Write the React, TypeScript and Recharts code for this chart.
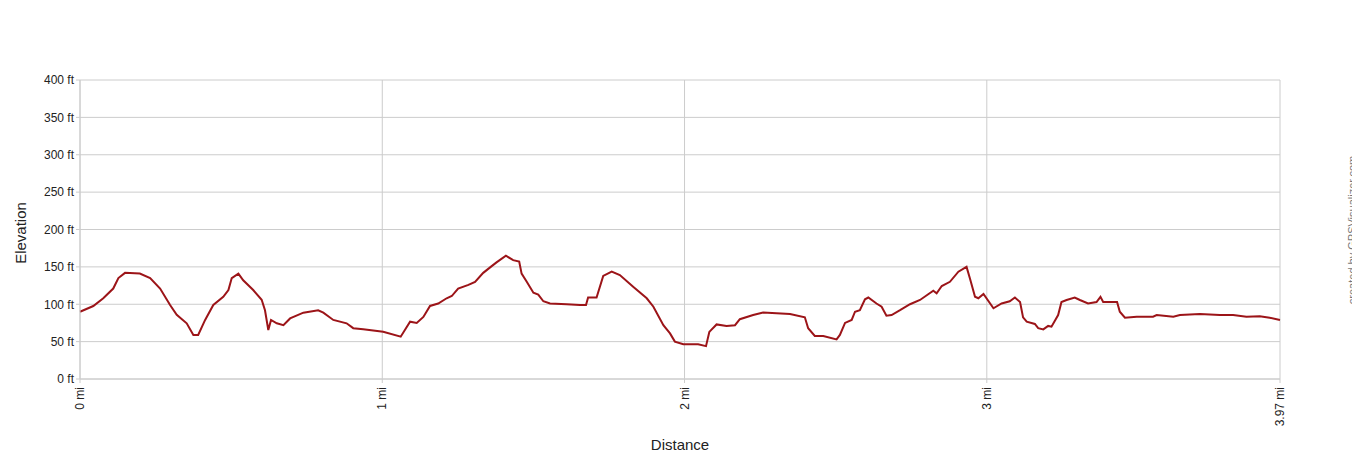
import { LineChart, Line, XAxis, YAxis, CartesianGrid, Label } from 'recharts';

// distance along the track (mi)
const distance = [
  0, 0.044, 0.077, 0.11, 0.127, 0.149, 0.198, 0.232, 0.265, 0.298, 0.32, 0.353, 0.375, 0.391,
  0.414, 0.441, 0.474, 0.491, 0.502, 0.524, 0.54, 0.573, 0.601, 0.612, 0.623, 0.632, 0.651,
  0.673, 0.695, 0.739, 0.788, 0.805, 0.838, 0.882, 0.904, 0.937, 1.003, 1.061, 1.092, 1.114,
  1.136, 1.158, 1.185, 1.213, 1.23, 1.251, 1.285, 1.307, 1.334, 1.362, 1.378, 1.409, 1.433,
  1.453, 1.461, 1.478, 1.5, 1.516, 1.533, 1.555, 1.61, 1.654, 1.674, 1.681, 1.709, 1.731,
  1.759, 1.786, 1.83, 1.875, 1.897, 1.93, 1.952, 1.968, 1.996, 2.045, 2.071, 2.082, 2.106,
  2.139, 2.167, 2.183, 2.227, 2.26, 2.349, 2.398, 2.409, 2.431, 2.459, 2.503, 2.514, 2.531,
  2.553, 2.564, 2.58, 2.597, 2.608, 2.635, 2.652, 2.668, 2.685, 2.713, 2.746, 2.779, 2.823,
  2.834, 2.851, 2.878, 2.906, 2.933, 2.944, 2.961, 2.972, 2.989, 3.022, 3.049, 3.076, 3.093,
  3.11, 3.12, 3.132, 3.159, 3.17, 3.187, 3.203, 3.214, 3.236, 3.247, 3.264, 3.291, 3.308,
  3.335, 3.363, 3.376, 3.385, 3.431, 3.44, 3.457, 3.496, 3.55, 3.562, 3.617, 3.639, 3.705,
  3.771, 3.815, 3.859, 3.903, 3.936, 3.97,
];

// elevation (ft)
const elevation = [
  90, 97.6, 108, 121, 135, 142, 141, 135, 121, 99, 86, 74.5, 59, 59,
  79, 99, 110, 119, 135, 141, 132, 119, 106, 92, 65.6, 79, 74.5,
  72, 81, 88.7, 92, 88.7, 79, 74.5, 68, 66.4, 63.3, 56.6, 76.7, 75,
  83, 97.7, 101, 108, 111, 121, 126, 130, 142, 151, 156, 165, 159,
  157, 141, 130, 115.5, 113, 104, 101, 100, 99, 99, 109, 109, 138,
  143.6, 139, 123.5, 108, 96.7, 72, 61, 50, 46.4, 46.4, 44, 63, 73,
  71, 72, 80, 85.6, 89, 87, 82.5, 68, 57.5, 57.5, 53, 59, 75,
  79, 90, 92, 106.6, 109, 101, 96.7, 84.7, 85.6, 92, 100, 105.7, 118,
  114.6, 124.4, 130, 143.6, 150, 134.7, 110, 108, 113.7, 94.6, 101, 104, 109,
  103, 82.5, 76.7, 73.6, 68, 66.4, 71, 70, 85.6, 103, 105.7, 109, 105.7,
  101, 103, 110, 103, 103, 90, 82, 83.4, 83.4, 85.6, 83.4, 85.6, 87,
  85.6, 85.6, 83.4, 84, 82, 79,
];

const xTicks = [0, 1, 2, 3, 3.97];
const yTicks = [0, 50, 100, 150, 200, 250, 300, 350, 400];

const data = distance.map((d, i) => ({ d, ft: elevation[i] }));

const FONT = 'Arial, "Liberation Sans", sans-serif';

const DistTick = ({ x, y, payload }: any) => (
  <text
    x={x}
    y={y + 2}
    transform={`rotate(-90 ${x} ${y + 2})`}
    textAnchor="end"
    dy={4}
    fontSize={12}
    fontFamily={FONT}
    fill="#222"
  >
    {`${payload.value} mi`}
  </text>
);

export default function App() {
  return (
    <div style={{ position: 'relative', width: 1352, height: 452 }}>
      <LineChart width={1344} height={452} data={data} margin={{ top: 72, right: 72, bottom: 21, left: 0 }}>
        <CartesianGrid stroke="#cccccc" horizontalValues={yTicks} verticalValues={xTicks} />
        <XAxis
          dataKey="d"
          type="number"
          domain={[0, 3.97]}
          ticks={xTicks}
          interval={0}
          height={60}
          tick={<DistTick />}
          tickSize={4}
          stroke="#cccccc"
        >
          <Label value="Distance" position="insideBottom" offset={0} dy={11} fontSize={15} fontFamily={FONT} fill="#222" />
        </XAxis>
        <YAxis
          type="number"
          domain={[0, 400]}
          ticks={yTicks}
          interval={0}
          width={72}
          tickSize={4}
          stroke="#cccccc"
          tickFormatter={(v) => `${v} ft`}
          tick={{ fontSize: 12, fontFamily: FONT, fill: '#222' }}
        />
        <Line
          type="linear"
          dataKey="ft"
          stroke="#9c1418"
          strokeWidth={2}
          dot={false}
          isAnimationActive={false}
        />
      </LineChart>
      <svg width={1352} height={452} style={{ position: 'absolute', left: 0, top: 0, pointerEvents: 'none' }}>
        <text
          x={18}
          y={225}
          transform="rotate(-90 18 225)"
          textAnchor="middle"
          fontSize={15}
          fontFamily={FONT}
          fill="#222"
        >
          Elevation
        </text>
        <text
          x={1348}
          y={222}
          transform="rotate(-90 1348 222)"
          textAnchor="middle"
          fontSize={11}
          fontFamily={FONT}
          fill="#777"
        >
          created by GPSVisualizer.com
        </text>
      </svg>
    </div>
  );
}
